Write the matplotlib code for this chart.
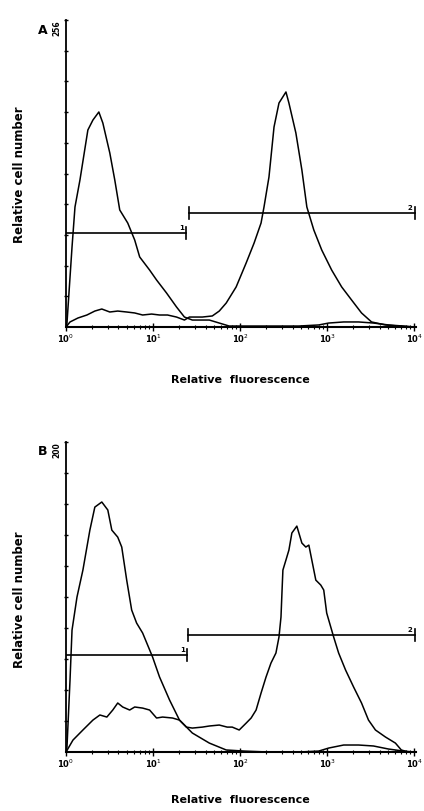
import numpy as np
import matplotlib.pyplot as plt

plt.rcParams["font.family"] = ["DejaVu Sans"]

# ---- data (x in decades of fluorescence, y in cell counts, full scale 256) ----
a1_dec = [0, .011, .069, .103, .16, .251, .309, .377, .423, .503, .56, .617, .709, .789,
          .846, .96, 1.04, 1.154, 1.269, 1.36, 1.451, 1.646, 1.76, 1.874, 2.217, 2.674,
          2.903, 3.017, 3.189, 3.36, 3.531, 3.703, 3.874, 4.0]
a1_cnt = [0, 3.3, 66.7, 100.1, 122.6, 164.3, 172.6, 179.3, 170.1, 145.1, 122.6, 97.6,
          86.7, 72.5, 58.4, 47.5, 39.2, 28.4, 16.7, 8.3, 5.8, 5.8, 3.3, 0.8, 0.8, 0.8,
          1.7, 3.3, 4.2, 4.2, 3.3, 1.7, 0.8, 0]

a2_dec = [0, .046, .137, .24, .331, .411, .503, .594, .697, .789, .88, .983, 1.074, 1.166,
          1.269, 1.36, 1.417, 1.497, 1.566, 1.68, 1.76, 1.84, 1.954, 2.069, 2.16, 2.24,
          2.274, 2.331, 2.389, 2.446, 2.526, 2.56, 2.64, 2.709, 2.766, 2.846, 2.937,
          3.051, 3.166, 3.28, 3.394, 3.509, 3.669, 3.817, 4.0]
a2_cnt = [0, 4.2, 7.5, 10.0, 13.3, 15.0, 12.5, 13.3, 12.5, 11.7, 10.0, 10.8, 10.0, 10.0,
          8.3, 5.8, 8.3, 8.3, 8.3, 9.2, 13.3, 20.0, 33.4, 53.4, 70.0, 86.7, 100.1, 125.1,
          166.8, 186.8, 196.0, 186.8, 161.8, 130.9, 100.1, 80.9, 64.2, 47.5, 33.4, 22.5,
          11.7, 4.2, 1.7, 0.8, 0]

b1_dec = [0, .011, .046, .069, .126, .194, .274, .331, .411, .48, .526, .594, .64, .697,
          .754, .811, .88, .994, 1.074, 1.189, 1.303, 1.451, 1.646, 1.84, 2.046, 2.331,
          2.674, 2.903, 3.017, 3.189, 3.36, 3.531, 3.703, 3.874, 4.0]
b1_cnt = [0, 4.1, 59.5, 100.7, 128.0, 150.3, 183.3, 202.3, 206.5, 199.9, 183.3, 177.5,
          169.3, 142.0, 117.3, 106.5, 98.3, 78.5, 62.0, 43.0, 26.4, 15.7, 7.4, 1.7, 0.8,
          0, 0, 0.8, 3.3, 5.8, 5.8, 5.0, 2.5, 0.8, 0]

b2_dec = [0, .08, .194, .309, .389, .469, .537, .594, .651, .731, .789, .88, .96, 1.04,
          1.109, 1.223, 1.303, 1.383, 1.451, 1.566, 1.646, 1.76, 1.851, 1.909, 1.989,
          2.069, 2.126, 2.183, 2.24, 2.297, 2.354, 2.411, 2.446, 2.469, 2.48, 2.491,
          2.526, 2.56, 2.594, 2.651, 2.709, 2.754, 2.789, 2.823, 2.869, 2.926, 2.96,
          2.994, 3.074, 3.131, 3.211, 3.303, 3.394, 3.474, 3.554, 3.669, 3.783, 3.851,
          3.931, 4.0]
b2_cnt = [0, 9.9, 18.2, 26.4, 30.6, 28.9, 34.7, 40.5, 37.2, 34.7, 37.2, 36.3, 34.7, 28.1,
          28.9, 28.1, 26.4, 20.6, 19.8, 20.6, 21.5, 22.3, 20.6, 20.6, 18.2, 23.9, 28.1,
          34.7, 48.7, 61.9, 73.5, 81.8, 95.0, 111.5, 131.3, 150.3, 158.6, 166.8, 180.9,
          186.6, 172.6, 169.3, 170.9, 158.6, 142.0, 137.9, 133.8, 114.8, 95.0, 81.8,
          67.7, 53.7, 40.5, 26.4, 18.2, 12.4, 7.4, 1.7, 0, 0]

# gates: (start decade, end decade, level, label)
a_gates = [(0.0, 1.383, 78.4, "1"), (1.417, 4.01, 95.1, "2")]
b_gates = [(0.0, 1.394, 80.1, "1"), (1.406, 4.01, 96.6, "2")]

tick_labels = ["10$^0$", "10$^1$", "10$^2$", "10$^3$", "10$^4$"]


def draw_panel(ax, curves, gates, top_label):
    for dec, cnt in curves:
        ax.plot(10 ** np.array(dec), cnt, color="black", lw=1.1)
    for x0, x1, lev, lab in gates:
        ax.plot([10 ** x0, 10 ** x1], [lev, lev], color="black", lw=1.2)
        ax.plot([10 ** x1, 10 ** x1], [lev - 5, lev + 5], color="black", lw=1.2)
        if x0 > 0:
            ax.plot([10 ** x0, 10 ** x0], [lev - 5, lev + 5], color="black", lw=1.2)
        ax.text(10 ** (x1 - 0.03), lev + 1.5, lab, fontsize=5, fontweight="bold",
                ha="right", va="bottom")
    ax.set_xscale("log")
    ax.set_xlim(1, 10 ** 4.02)
    ax.set_ylim(0, 256)
    ax.set_xticks([1, 10, 100, 1000, 10000])
    ax.set_xticklabels(tick_labels, fontsize=6, fontweight="bold")
    ax.set_yticks(np.linspace(0, 256, 11)[1:])
    ax.set_yticklabels([])
    ax.tick_params(axis="y", direction="inout", length=3, width=1)
    ax.tick_params(axis="x", which="major", direction="inout", length=6, width=1, pad=1)
    ax.tick_params(axis="x", which="minor", direction="inout", length=3, width=0.8)
    for s in ["top", "right"]:
        ax.spines[s].set_visible(False)
    ax.spines["left"].set_linewidth(1.3)
    ax.spines["bottom"].set_linewidth(1.5)
    ax.text(-0.012, 1.0, top_label, transform=ax.transAxes, rotation=90,
            fontsize=5.5, fontweight="bold", ha="right", va="top")


fig = plt.figure(figsize=(4.24, 8.11), dpi=100)
ax_a = fig.add_axes([0.1557, 0.5968, 0.8255, 0.3785])
ax_b = fig.add_axes([0.1557, 0.0727, 0.8255, 0.3822])

draw_panel(ax_a, [(a1_dec, a1_cnt), (a2_dec, a2_cnt)], a_gates, "256")
draw_panel(ax_b, [(b1_dec, b1_cnt), (b2_dec, b2_cnt)], b_gates, "200")

fig.text(0.101, 0.962, "A", fontsize=9, fontweight="bold", ha="center", va="center")
fig.text(0.101, 0.443, "B", fontsize=9, fontweight="bold", ha="center", va="center")
fig.text(0.047, 0.784, "Relative cell number", rotation=90, fontsize=8.5,
         fontweight="bold", ha="center", va="center")
fig.text(0.047, 0.26, "Relative cell number", rotation=90, fontsize=8.5,
         fontweight="bold", ha="center", va="center")
fig.text(0.566, 0.531, "Relative  fluorescence", fontsize=8,
         fontweight="bold", ha="center", va="center")
fig.text(0.566, 0.0136, "Relative  fluorescence", fontsize=8,
         fontweight="bold", ha="center", va="center")

fig.savefig("out.png", dpi=100)
